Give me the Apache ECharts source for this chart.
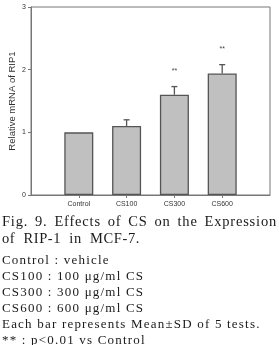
<!DOCTYPE html>
<html>
<head>
<meta charset="utf-8">
<script src="https://cdn.jsdelivr.net/npm/echarts@6/dist/echarts.min.js"></script>
<style>
html, body { margin: 0; padding: 0; background: #fff; }
#chart { position: absolute; left: 0; top: 0; width: 279px; height: 345px; }
#caption { position: absolute; left: 2px; top: 213px; width: 275px; font-family: "Liberation Serif", "Times New Roman", serif; color: #1a1a1a; }
#caption div { white-space: nowrap; }
.head { font-size: 14.5px; line-height: 17px; }
.line { font-size: 13px; line-height: 16px; letter-spacing: 1.2px; }
.just { text-align: justify; text-align-last: justify; letter-spacing: 0.8px; white-space: normal !important; }
.h2 { letter-spacing: 0.6px; word-spacing: 4px; }
</style>
</head>
<body>
<div id="chart"></div>
<div id="caption">
	<div class="head just">Fig. 9. Effects of CS on the Expression</div>
	<div class="head h2">of RIP-1 in MCF-7.</div>
	<div class="line" style="margin-top:5px">Control : vehicle</div>
	<div class="line">CS100 : 100 μg/ml CS</div>
	<div class="line">CS300 : 300 μg/ml CS</div>
	<div class="line">CS600 : 600 μg/ml CS</div>
	<div class="line">Each bar represents Mean±SD of 5 tests.</div>
	<div class="line">** : p&lt;0.01 vs Control</div>
</div>
<script>
var categories = ['Control', 'CS100', 'CS300', 'CS600'];
var means = [1.0, 1.1, 1.6, 1.94];
var sds = [0, 0.1, 0.13, 0.14];
var marks = ['', '', '**', '**'];
var yTicks = [0, 1, 2, 3];

var myChart = echarts.init(document.getElementById('chart'));
var axisColor = '#777';

var barData = means.map(function(v, i) { return [i + 1, v]; });
var errData = means.map(function(v, i) { return [i + 1, v, v + sds[i], marks[i]]; });

var option = {
	animation : false,
	grid : {
		left : 31, right : 9, top : 7, bottom : 150,
		containLabel : false, outerBoundsMode : 'none',
		show : true, borderColor : axisColor, borderWidth : 1
	},
	xAxis : {
		type : 'value', min : 0, max : 5, interval : 1,
		splitLine : { show : false },
		axisLine : { lineStyle : { color : axisColor } },
		axisTick : {
			length : 3, lineStyle : { color : axisColor },
			customValues : [1, 2, 3, 4]
		},
		axisLabel : {
			fontSize : 7, color : '#333', margin : 6,
			fontFamily : 'Liberation Sans, Arial',
			customValues : [1, 2, 3, 4],
			formatter : function(v) { return categories[v - 1] || ''; }
		}
	},
	yAxis : {
		type : 'value', min : 0, max : 3, interval : 1,
		name : 'Relative mRNA of RIP1', nameLocation : 'middle', nameGap : 14,
		nameMoveOverlap : false,
		nameTextStyle : { fontSize : 9.5, color : '#333', fontFamily : 'Liberation Sans, Arial' },
		splitLine : { show : false },
		axisLine : { show : true, lineStyle : { color : axisColor } },
		axisTick : { show : true, length : 3, lineStyle : { color : axisColor } },
		axisLabel : {
			fontSize : 7, color : '#333', margin : 5,
			fontFamily : 'Liberation Sans, Arial',
			customValues : yTicks
		}
	},
	series : [ {
		type : 'bar',
		data : barData,
		barWidth : 29,
		itemStyle : { color : '#c0c0c0', borderColor : '#555', borderWidth : 1.3 }
	}, {
		type : 'custom',
		data : errData,
		z : 10,
		renderItem : function(params, api) {
			var base = api.coord([api.value(0), api.value(1)]);
			var top = api.coord([api.value(0), api.value(2)]);
			var children = [];
			if (api.value(2) > api.value(1)) {
				children.push({
					type : 'line',
					shape : { x1 : base[0], y1 : base[1], x2 : top[0], y2 : top[1] },
					style : { stroke : '#555', lineWidth : 1.3 }
				});
				children.push({
					type : 'line',
					shape : { x1 : top[0] - 3, y1 : top[1], x2 : top[0] + 3, y2 : top[1] },
					style : { stroke : '#555', lineWidth : 1.3 }
				});
			}
			var m = marks[params.dataIndex];
			if (m) {
				children.push({
					type : 'text',
					style : {
						text : m, x : top[0], y : top[1] - 16,
						align : 'center', verticalAlign : 'middle',
						fontSize : 7, fill : '#444', fontFamily : 'Liberation Sans, Arial'
					}
				});
			}
			return { type : 'group', children : children };
		}
	} ]
};
myChart.setOption(option);
</script>
</body>
</html>
